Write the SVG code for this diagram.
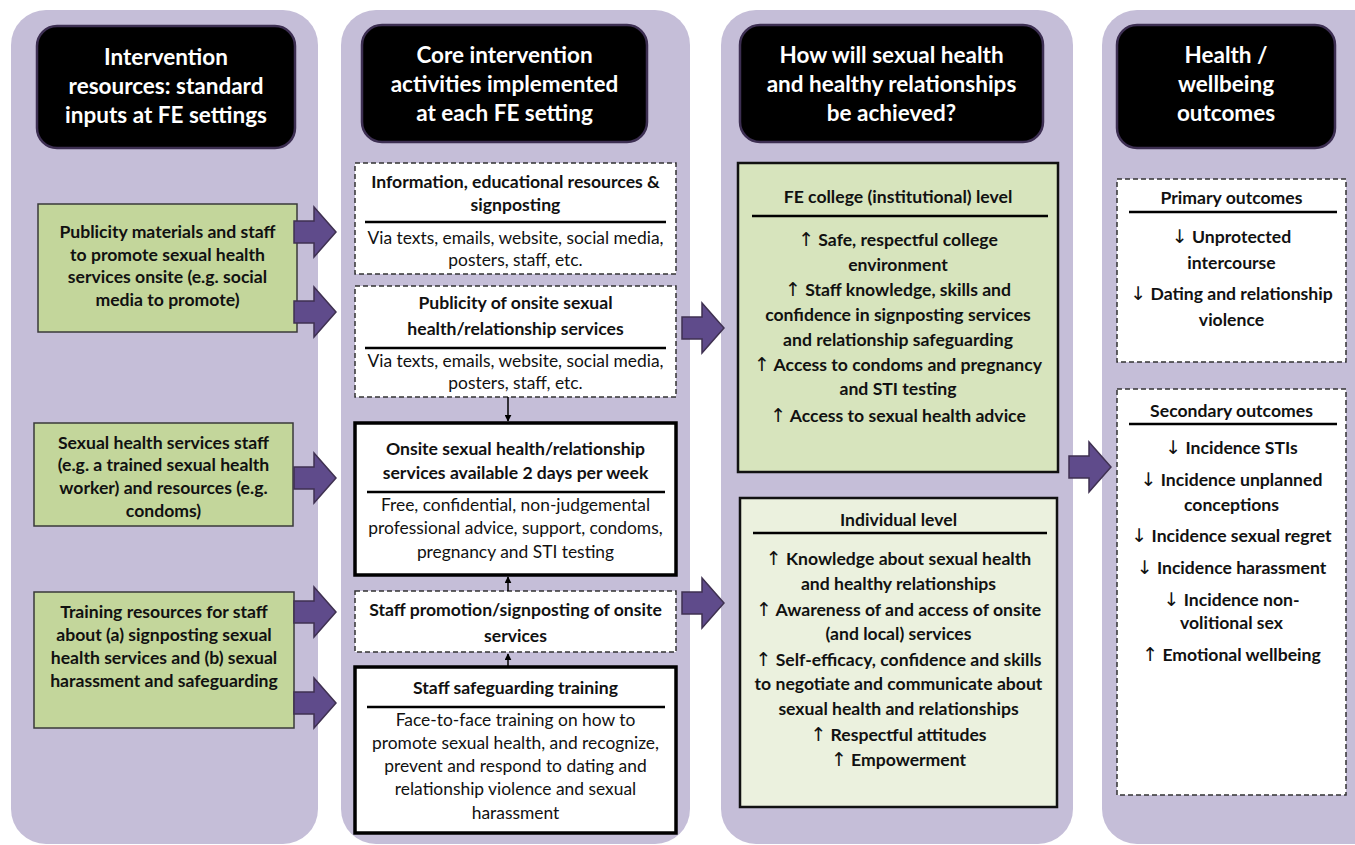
<svg xmlns="http://www.w3.org/2000/svg" width="1355" height="845" viewBox="0 0 1355 845">
<style>
.panel{fill:#c5bed8}
.hdr{fill:#000;stroke:#3d2f52;stroke-width:2.5}
.ht{font-family:Lato,"Liberation Sans",sans-serif;font-weight:bold;font-size:22.5px;fill:#fff;text-anchor:middle}
.g1{fill:#c3d69b;stroke:#3a3a3a;stroke-width:1.5}
.gF{fill:#d7e4bd;stroke:#111;stroke-width:2.5}
.gG{fill:#ebf1de;stroke:#111;stroke-width:2.5}
.dash{fill:#fff;stroke:#333;stroke-width:1.5;stroke-dasharray:5 3}
.solid{fill:#fff;stroke:#000;stroke-width:3.5}
.b{font-family:Lato,"Liberation Sans",sans-serif;font-weight:bold;font-size:17.6px;fill:#111;text-anchor:middle}
.r{font-family:Lato,"Liberation Sans",sans-serif;font-weight:normal;font-size:17.4px;fill:#111;text-anchor:middle}
.ar{font-family:"DejaVu Sans",sans-serif;font-weight:normal;font-size:19px}
.sep{stroke:#000;stroke-width:2.5}
.fat{fill:#5f4b8b;stroke:#3f3151;stroke-width:1.5}
.thin{stroke:#000;stroke-width:1.5;fill:none}
</style>
<defs>
<marker id="ah" viewBox="0 0 10 10" refX="9" refY="5" markerWidth="7" markerHeight="7" orient="auto" markerUnits="userSpaceOnUse"><path d="M0,0 L10,5 L0,10 z" fill="#000"/></marker>
<path id="fatarrow" d="M0,-11 L20,-11 L20,-25 L42,0 L20,25 L20,11 L0,11 z"/>
</defs>

<g id="panels">
<rect class="panel" x="11" y="10" width="307" height="834" rx="35"/>
<rect class="panel" x="341" y="10" width="349" height="834" rx="35"/>
<rect class="panel" x="721" y="10" width="352" height="834" rx="35"/>
<rect class="panel" x="1102" y="10" width="290" height="834" rx="35"/>
</g>

<g id="header1">
<rect class="hdr" x="37" y="26" width="258" height="122" rx="20"/>
<text class="ht" x="166" y="65">Intervention</text>
<text class="ht" x="166" y="94">resources: standard</text>
<text class="ht" x="166" y="123">inputs at FE settings</text>
</g>
<g id="header2">
<rect class="hdr" x="362" y="25" width="285" height="117" rx="20"/>
<text class="ht" x="504.5" y="63">Core intervention</text>
<text class="ht" x="504.5" y="92">activities implemented</text>
<text class="ht" x="504.5" y="121">at each FE setting</text>
</g>
<g id="header3">
<rect class="hdr" x="740" y="25" width="303" height="117" rx="20"/>
<text class="ht" x="891.5" y="63">How will sexual health</text>
<text class="ht" x="891.5" y="92">and healthy relationships</text>
<text class="ht" x="891.5" y="121">be achieved?</text>
</g>
<g id="header4">
<rect class="hdr" x="1117" y="25" width="218" height="123" rx="20"/>
<text class="ht" x="1226" y="63">Health /</text>
<text class="ht" x="1226" y="92">wellbeing</text>
<text class="ht" x="1226" y="121">outcomes</text>
</g>

<g id="input-publicity">
<rect class="g1" x="38" y="204" width="259" height="128"/>
<text class="b" x="167.5" y="238">Publicity materials and staff</text>
<text class="b" x="167.5" y="261">to promote sexual health</text>
<text class="b" x="167.5" y="283">services onsite (e.g. social</text>
<text class="b" x="167.5" y="306">media to promote)</text>
</g>
<g id="input-staff">
<rect class="g1" x="34" y="423" width="259" height="103"/>
<text class="b" x="163.5" y="449">Sexual health services staff</text>
<text class="b" x="163.5" y="471">(e.g. a trained sexual health</text>
<text class="b" x="163.5" y="494">worker) and resources (e.g.</text>
<text class="b" x="163.5" y="517">condoms)</text>
</g>
<g id="input-training">
<rect class="g1" x="34" y="592" width="260" height="136"/>
<text class="b" x="164" y="618">Training resources for staff</text>
<text class="b" x="164" y="641">about (a) signposting sexual</text>
<text class="b" x="164" y="664">health services and (b) sexual</text>
<text class="b" x="164" y="687">harassment and safeguarding</text>
</g>

<g id="act-information">
<rect class="dash" x="355" y="163" width="321" height="111"/>
<text class="b" x="515.5" y="188">Information, educational resources &amp;</text>
<text class="b" x="515.5" y="211">signposting</text>
<line class="sep" x1="365" y1="222" x2="666" y2="222"/>
<text class="r" x="515.5" y="244">Via texts, emails, website, social media,</text>
<text class="r" x="515.5" y="266">posters, staff, etc.</text>
</g>
<g id="act-publicity">
<rect class="dash" x="355" y="286" width="321" height="111"/>
<text class="b" x="515.5" y="309">Publicity of onsite sexual</text>
<text class="b" x="515.5" y="335">health/relationship services</text>
<line class="sep" x1="365" y1="348" x2="666" y2="348"/>
<text class="r" x="515.5" y="367">Via texts, emails, website, social media,</text>
<text class="r" x="515.5" y="389">posters, staff, etc.</text>
</g>
<g id="act-onsite">
<rect class="solid" x="355" y="423" width="321" height="152"/>
<text class="b" x="515.5" y="455">Onsite sexual health/relationship</text>
<text class="b" x="515.5" y="479">services available 2 days per week</text>
<line class="sep" x1="367" y1="492" x2="665" y2="492"/>
<text class="r" x="515.5" y="511">Free, confidential, non-judgemental</text>
<text class="r" x="515.5" y="534">professional advice, support, condoms,</text>
<text class="r" x="515.5" y="558">pregnancy and STI testing</text>
</g>
<g id="act-promotion">
<rect class="dash" x="355" y="591" width="321" height="61"/>
<text class="b" x="515.5" y="616">Staff promotion/signposting of onsite</text>
<text class="b" x="515.5" y="642">services</text>
</g>
<g id="act-training">
<rect class="solid" x="355" y="667" width="321" height="166"/>
<text class="b" x="515.5" y="694">Staff safeguarding training</text>
<line class="sep" x1="367" y1="707" x2="665" y2="707"/>
<text class="r" x="515.5" y="726">Face-to-face training on how to</text>
<text class="r" x="515.5" y="749">promote sexual health, and recognize,</text>
<text class="r" x="515.5" y="772">prevent and respond to dating and</text>
<text class="r" x="515.5" y="795">relationship violence and sexual</text>
<text class="r" x="515.5" y="819">harassment</text>
</g>

<g id="mech-college">
<rect class="gF" x="738" y="163" width="320" height="309"/>
<text class="b" x="898" y="203">FE college (institutional) level</text>
<line class="sep" x1="752" y1="216" x2="1048" y2="216"/>
<text class="b" x="898" y="246"><tspan class="ar">↑</tspan> Safe, respectful college</text>
<text class="b" x="898" y="271">environment</text>
<text class="b" x="898" y="296"><tspan class="ar">↑</tspan> Staff knowledge, skills and</text>
<text class="b" x="898" y="321">confidence in signposting services</text>
<text class="b" x="898" y="346">and relationship safeguarding</text>
<text class="b" x="898" y="371"><tspan class="ar">↑</tspan> Access to condoms and pregnancy</text>
<text class="b" x="898" y="395">and STI testing</text>
<text class="b" x="898" y="422"><tspan class="ar">↑</tspan> Access to sexual health advice</text>
</g>
<g id="mech-individual">
<rect class="gG" x="740" y="498" width="317" height="309"/>
<text class="b" x="898.5" y="526">Individual level</text>
<line class="sep" x1="753" y1="533" x2="1047" y2="533"/>
<text class="b" x="898.5" y="565"><tspan class="ar">↑</tspan> Knowledge about sexual health</text>
<text class="b" x="898.5" y="590">and healthy relationships</text>
<text class="b" x="898.5" y="616"><tspan class="ar">↑</tspan> Awareness of and access of onsite</text>
<text class="b" x="898.5" y="640">(and local) services</text>
<text class="b" x="898.5" y="666"><tspan class="ar">↑</tspan> Self-efficacy, confidence and skills</text>
<text class="b" x="898.5" y="690">to negotiate and communicate about</text>
<text class="b" x="898.5" y="715">sexual health and relationships</text>
<text class="b" x="898.5" y="741"><tspan class="ar">↑</tspan> Respectful attitudes</text>
<text class="b" x="898.5" y="766"><tspan class="ar">↑</tspan> Empowerment</text>
</g>

<g id="out-primary">
<rect class="dash" x="1117" y="179" width="229" height="183"/>
<text class="b" x="1231.5" y="204">Primary outcomes</text>
<line class="sep" x1="1129" y1="212" x2="1337" y2="212"/>
<text class="b" x="1231.5" y="243"><tspan class="ar">↓</tspan> Unprotected</text>
<text class="b" x="1231.5" y="269">intercourse</text>
<text class="b" x="1231.5" y="300"><tspan class="ar">↓</tspan> Dating and relationship</text>
<text class="b" x="1231.5" y="326">violence</text>
</g>
<g id="out-secondary">
<rect class="dash" x="1117" y="389" width="229" height="406"/>
<text class="b" x="1231.5" y="417">Secondary outcomes</text>
<line class="sep" x1="1129" y1="424" x2="1337" y2="424"/>
<text class="b" x="1231.5" y="454"><tspan class="ar">↓</tspan> Incidence STIs</text>
<text class="b" x="1231.5" y="486"><tspan class="ar">↓</tspan> Incidence unplanned</text>
<text class="b" x="1231.5" y="511">conceptions</text>
<text class="b" x="1231.5" y="542"><tspan class="ar">↓</tspan> Incidence sexual regret</text>
<text class="b" x="1231.5" y="574"><tspan class="ar">↓</tspan> Incidence harassment</text>
<text class="b" x="1231.5" y="606"><tspan class="ar">↓</tspan> Incidence non-</text>
<text class="b" x="1231.5" y="629">volitional sex</text>
<text class="b" x="1231.5" y="661"><tspan class="ar">↑</tspan> Emotional wellbeing</text>
</g>

<g id="connectors">
<use href="#fatarrow" class="fat" transform="translate(294,232)"/>
<use href="#fatarrow" class="fat" transform="translate(294,312)"/>
<use href="#fatarrow" class="fat" transform="translate(294,478)"/>
<use href="#fatarrow" class="fat" transform="translate(294,612)"/>
<use href="#fatarrow" class="fat" transform="translate(294,703)"/>
<use href="#fatarrow" class="fat" transform="translate(682,328)"/>
<use href="#fatarrow" class="fat" transform="translate(682,603)"/>
<use href="#fatarrow" class="fat" transform="translate(1069,467)"/>
<line class="thin" x1="508" y1="397" x2="508" y2="421" marker-end="url(#ah)"/>
<line class="thin" x1="508" y1="591" x2="508" y2="577" marker-end="url(#ah)"/>
<line class="thin" x1="508" y1="667" x2="508" y2="654" marker-end="url(#ah)"/>
</g>
</svg>
